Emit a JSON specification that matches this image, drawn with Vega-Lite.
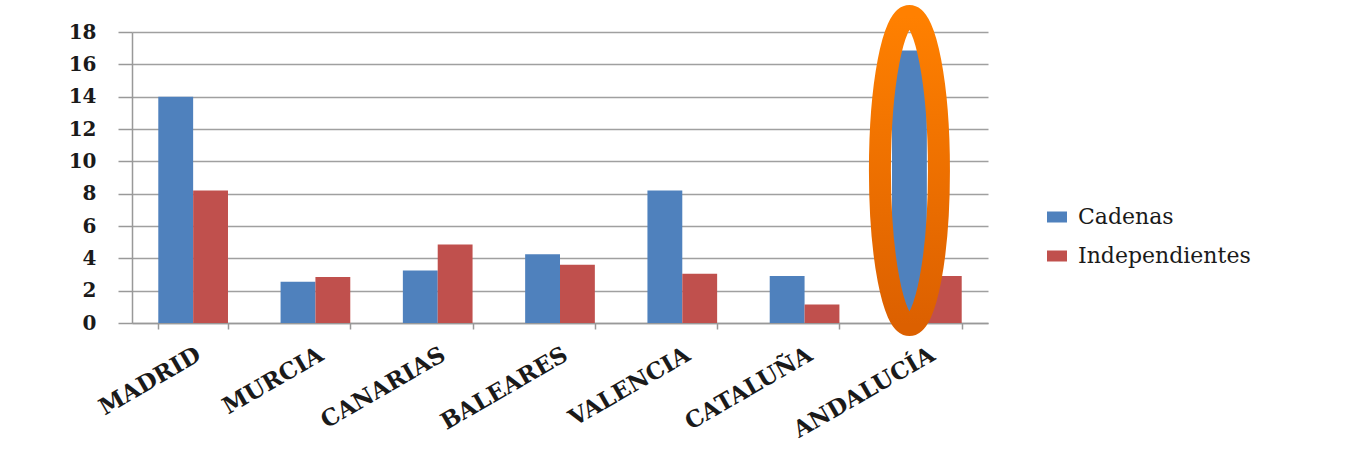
{
  "$schema": "https://vega.github.io/schema/vega-lite/v6.json",
  "autosize": "none",
  "width": 856,
  "height": 291,
  "padding": {"left": 132, "top": 32, "right": 366, "bottom": 135},
  "background": "white",
  "config": {
    "view": {"stroke": null},
    "axis": {
      "domainColor": "#999999",
      "domainWidth": 1.5,
      "tickColor": "#999999",
      "tickWidth": 1.5,
      "gridColor": "#a0a0a0",
      "gridWidth": 1.5,
      "labelFont": "DejaVu Serif",
      "labelColor": "#1a1a1a",
      "title": null
    },
    "axisX": {
      "labelAngle": -30,
      "labelAlign": "right",
      "labelBaseline": "top",
      "labelFontSize": 23,
      "labelFontWeight": "bold",
      "labelPadding": 14,
      "labelOverlap": false,
      "labelLimit": 300,
      "tickBand": "extent",
      "tickSize": 6,
      "grid": false
    },
    "axisY": {
      "tickSize": 14,
      "labelFontSize": 20,
      "labelFontWeight": "bold",
      "labelPadding": 22,
      "labelOverlap": false,
      "labelFlush": false,
      "grid": true
    }
  },
  "datasets": {
    "valores": [
      {"region": "MADRID", "serie": "Cadenas", "valor": 14.0},
      {"region": "MADRID", "serie": "Independientes", "valor": 8.2},
      {"region": "MURCIA", "serie": "Cadenas", "valor": 2.55},
      {"region": "MURCIA", "serie": "Independientes", "valor": 2.85},
      {"region": "CANARIAS", "serie": "Cadenas", "valor": 3.25},
      {"region": "CANARIAS", "serie": "Independientes", "valor": 4.85},
      {"region": "BALEARES", "serie": "Cadenas", "valor": 4.25},
      {"region": "BALEARES", "serie": "Independientes", "valor": 3.6},
      {"region": "VALENCIA", "serie": "Cadenas", "valor": 8.2},
      {"region": "VALENCIA", "serie": "Independientes", "valor": 3.05},
      {"region": "CATALUÑA", "serie": "Cadenas", "valor": 2.9},
      {"region": "CATALUÑA", "serie": "Independientes", "valor": 1.15},
      {"region": "ANDALUCÍA", "serie": "Cadenas", "valor": 16.85},
      {"region": "ANDALUCÍA", "serie": "Independientes", "valor": 2.9}
    ],
    "resaltado": [
      {"region": "ANDALUCÍA", "serie": "Cadenas", "centro": 9.43}
    ]
  },
  "layer": [
    {
      "data": {"name": "valores"},
      "mark": {"type": "bar"},
      "encoding": {
        "x": {
          "field": "region",
          "type": "nominal",
          "sort": null,
          "scale": {"paddingInner": 0.43, "paddingOuter": 0.215},
          "axis": {"tickBand": "extent"}
        },
        "xOffset": {"field": "serie", "type": "nominal", "sort": ["Cadenas", "Independientes"]},
        "y": {
          "field": "valor",
          "type": "quantitative",
          "scale": {"domain": [0, 18], "nice": false},
          "axis": {"values": [0, 2, 4, 6, 8, 10, 12, 14, 16, 18]}
        },
        "color": {
          "field": "serie",
          "type": "nominal",
          "scale": {"domain": ["Cadenas", "Independientes"], "range": ["#4f81bd", "#c0504d"]},
          "legend": {
            "title": null,
            "orient": "none",
            "legendX": 914,
            "legendY": 174,
            "padding": 0,
            "symbolType": "M-1,-0.55H1V0.55H-1Z",
            "symbolSize": 400,
            "symbolStrokeWidth": 0,
            "labelFont": "DejaVu Serif",
            "labelFontSize": 22,
            "labelColor": "#1a1a1a",
            "labelOffset": 10,
            "labelLimit": 400,
            "rowPadding": 17
          }
        }
      }
    },
    {
      "data": {"name": "resaltado"},
      "mark": {
        "type": "point",
        "shape": "M-0.191,0A0.191,1,0,1,1,0.191,0A0.191,1,0,1,1,-0.191,0Z",
        "size": 95481,
        "filled": false,
        "strokeWidth": 22,
        "opacity": 1,
        "stroke": {
          "gradient": "linear",
          "x1": 0, "y1": 0, "x2": 0, "y2": 1,
          "stops": [
            {"offset": 0, "color": "#ff8000"},
            {"offset": 1, "color": "#dc6000"}
          ]
        }
      },
      "encoding": {
        "x": {"field": "region", "type": "nominal", "sort": null, "axis": {"tickBand": "extent"}},
        "xOffset": {"field": "serie", "type": "nominal"},
        "y": {"field": "centro", "type": "quantitative", "axis": {"values": [0, 2, 4, 6, 8, 10, 12, 14, 16, 18]}}
      }
    }
  ]
}
